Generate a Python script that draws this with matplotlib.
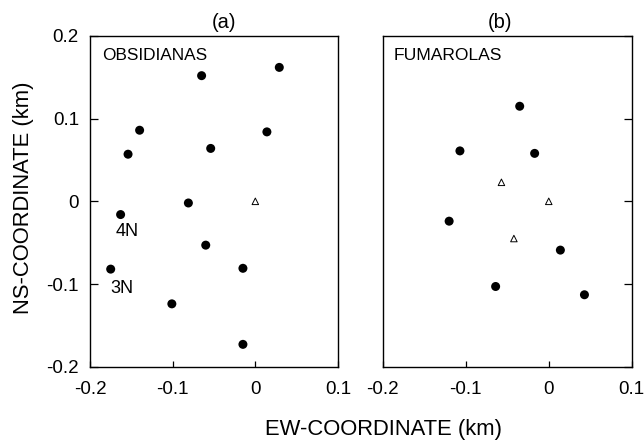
import numpy as np
import matplotlib
matplotlib.use("Agg")
import matplotlib.pyplot as plt

plt.rcParams['font.family'] = ['Liberation Sans', 'DejaVu Sans']

# Obsidianas (panel a)
obs_x = [-0.065, 0.029, -0.140, 0.014, -0.154, -0.054, -0.081, -0.163, -0.060, -0.175, -0.015, -0.101, -0.015]
obs_y = [0.152, 0.162, 0.086, 0.084, 0.057, 0.064, -0.002, -0.016, -0.053, -0.082, -0.081, -0.124, -0.173]
obs_tri_x = [0.0]
obs_tri_y = [0.0]

# Fumarolas (panel b)
fum_x = [-0.035, -0.107, -0.017, -0.120, 0.014, -0.064, 0.043]
fum_y = [0.115, 0.061, 0.058, -0.024, -0.059, -0.103, -0.113]
fum_tri_x = [-0.057, 0.0, -0.042]
fum_tri_y = [0.023, 0.0, -0.045]

xticks = [-0.2, -0.1, 0, 0.1]
xlabels = ['-0.2', '-0.1', '0', '0.1']
yticks = [-0.2, -0.1, 0, 0.1, 0.2]
ylabels = ['-0.2', '-0.1', '0', '0.1', '0.2']

fig = plt.figure(figsize=(6.44, 4.42), dpi=100)
ax1 = fig.add_axes([0.1398, 0.1704, 0.385, 0.7482])
ax2 = fig.add_axes([0.5943, 0.1704, 0.3867, 0.7482])

for ax in (ax1, ax2):
    ax.set_xlim(-0.2, 0.1)
    ax.set_ylim(-0.2, 0.2)
    ax.set_xticks(xticks)
    ax.set_xticklabels(xlabels, fontsize=13.5)
    ax.set_yticks(yticks)
    ax.tick_params(direction='in', length=6, width=0.9)
    ax.tick_params(axis='x', length=4, pad=10)
    ax.tick_params(axis='y', pad=8)
    for s in ax.spines.values():
        s.set_linewidth(1.0)

ax1.set_yticklabels(ylabels, fontsize=13.5)
ax2.yaxis.tick_right()
ax2.set_yticklabels([])

ax1.scatter(obs_x, obs_y, s=42, c='black', edgecolors='none', zorder=3)
ax1.scatter(obs_tri_x, obs_tri_y, s=22, marker='^', facecolors='none', edgecolors='black', linewidths=0.7, zorder=3)
ax2.scatter(fum_x, fum_y, s=42, c='black', edgecolors='none', zorder=3)
ax2.scatter(fum_tri_x, fum_tri_y, s=22, marker='^', facecolors='none', edgecolors='black', linewidths=0.7, zorder=3)

ax1.text(0.047, 0.941, 'OBSIDIANAS', transform=ax1.transAxes, fontsize=12.4, va='center', ha='left')
ax2.text(0.043, 0.941, 'FUMAROLAS', transform=ax2.transAxes, fontsize=12.6, va='center', ha='left')
ax1.text(-0.155, -0.037, '4N', fontsize=13, ha='center', va='center')
ax1.text(-0.161, -0.105, '3N', fontsize=13, ha='center', va='center')

ax1.text(0.542, 1.041, '(a)', transform=ax1.transAxes, fontsize=14.5, ha='center', va='center')
ax2.text(0.469, 1.041, '(b)', transform=ax2.transAxes, fontsize=14.5, ha='center', va='center')

fig.text(0.0365, 0.553, 'NS-COORDINATE (km)', fontsize=15.8, rotation=90, ha='center', va='center')
fig.text(0.5955, 0.016, 'EW-COORDINATE (km)', fontsize=15.8, ha='center', va='baseline')

fig.savefig('out.png', dpi=100)
